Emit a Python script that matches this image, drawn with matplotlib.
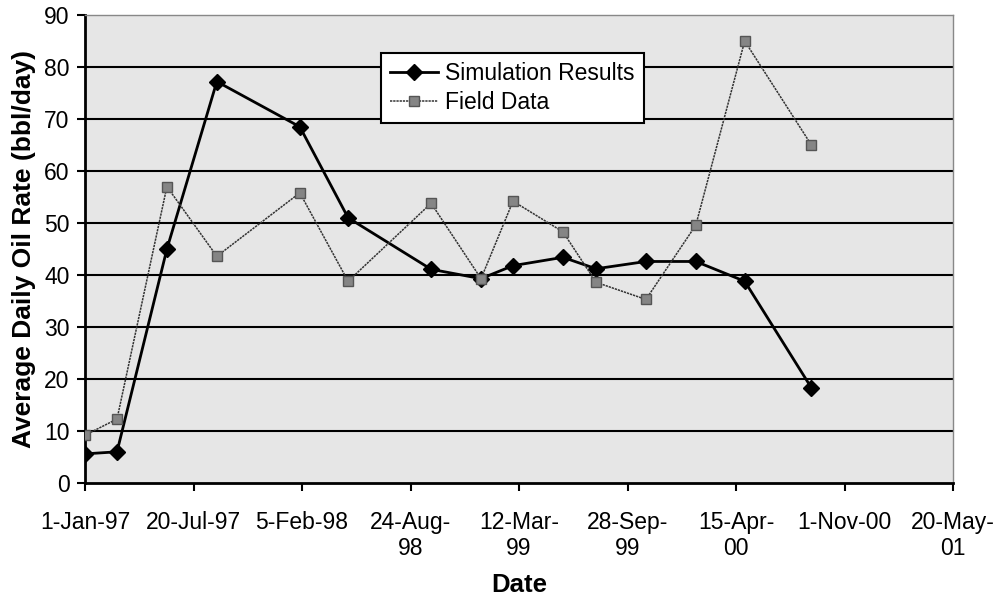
import numpy as np
import pandas as pd
import matplotlib
matplotlib.use("Agg")
import matplotlib.pyplot as plt

plt.rcParams['font.family'] = ['Liberation Sans', 'DejaVu Sans']

dates = ["1997-01-01", "1997-03-01", "1997-06-01", "1997-09-01", "1998-02-01",
         "1998-05-01", "1998-10-01", "1999-01-01", "1999-03-01", "1999-06-01",
         "1999-08-01", "1999-11-01", "2000-02-01", "2000-05-01", "2000-09-01"]
simulation = [5.6, 6.0, 45.0, 77.2, 68.5, 51.0, 41.1, 39.3, 41.8, 43.4,
              41.2, 42.6, 42.6, 38.8, 18.3]
field = [9.2, 12.3, 57.0, 43.6, 55.8, 38.8, 53.8, 39.3, 54.2, 48.3,
         38.6, 35.3, 49.6, 85.0, 65.0]

tick_dates = ["1997-01-01", "1997-07-20", "1998-02-05", "1998-08-24", "1999-03-12",
              "1999-09-28", "2000-04-15", "2000-11-01", "2001-05-20"]
tick_labels = ["1-Jan-97", "20-Jul-97", "5-Feb-98", "24-Aug-\n98", "12-Mar-\n99",
               "28-Sep-\n99", "15-Apr-\n00", "1-Nov-00", "20-May-\n01"]

x = pd.to_datetime(dates)
xt = pd.to_datetime(tick_dates)

fig = plt.figure(figsize=(9.99, 6.03), dpi=100)
ax = fig.add_axes([85/999, 1-483/603, 868/999, 468/603])
ax.set_facecolor('#e6e6e6')

ax.plot(x, simulation, color='black', lw=2, marker='D', ms=8.5,
        label='Simulation Results', zorder=3)
ax.plot(x, field, color='#333333', lw=1.1, ls=(0, (1.5, 0.6)), marker='s', ms=7,
        mfc='#858585', mec='#555555', mew=1, label='Field Data', zorder=4)

ax.set_ylim(0, 90)
ax.set_yticks(range(0, 91, 10))
ax.set_xlim(xt[0], xt[-1])
ax.set_xticks(xt)
ax.set_xticklabels(tick_labels, multialignment='center')

for v in range(10, 90, 10):
    ax.axhline(v, color='black', lw=1.5, zorder=1)

ax.tick_params(axis='both', labelsize=16.5, direction='out', length=6, width=1.5, color='black')
ax.tick_params(axis='x', pad=14)
ax.tick_params(axis='y', pad=5)

for s in ['left', 'bottom']:
    ax.spines[s].set_linewidth(2)
    ax.spines[s].set_color('black')
for s in ['top', 'right']:
    ax.spines[s].set_linewidth(1)
    ax.spines[s].set_color('#888888')

ax.set_xlabel('Date', fontsize=18.5, fontweight='bold', labelpad=9)
ax.set_ylabel('Average Daily Oil Rate (bbl/day)', fontsize=19, fontweight='bold', labelpad=6)

leg = ax.legend(loc='upper left', bbox_to_anchor=(381/999, 1-53/603),
                bbox_transform=fig.transFigure, fontsize=16.5, frameon=True,
                fancybox=False, borderpad=0.4, handlelength=2.1, handletextpad=0.3,
                labelspacing=0.25, borderaxespad=0)
leg.get_frame().set_edgecolor('black')
leg.get_frame().set_linewidth(1.5)
leg.get_frame().set_facecolor('white')
leg.get_frame().set_alpha(1)

fig.savefig('out.png', dpi=100)
